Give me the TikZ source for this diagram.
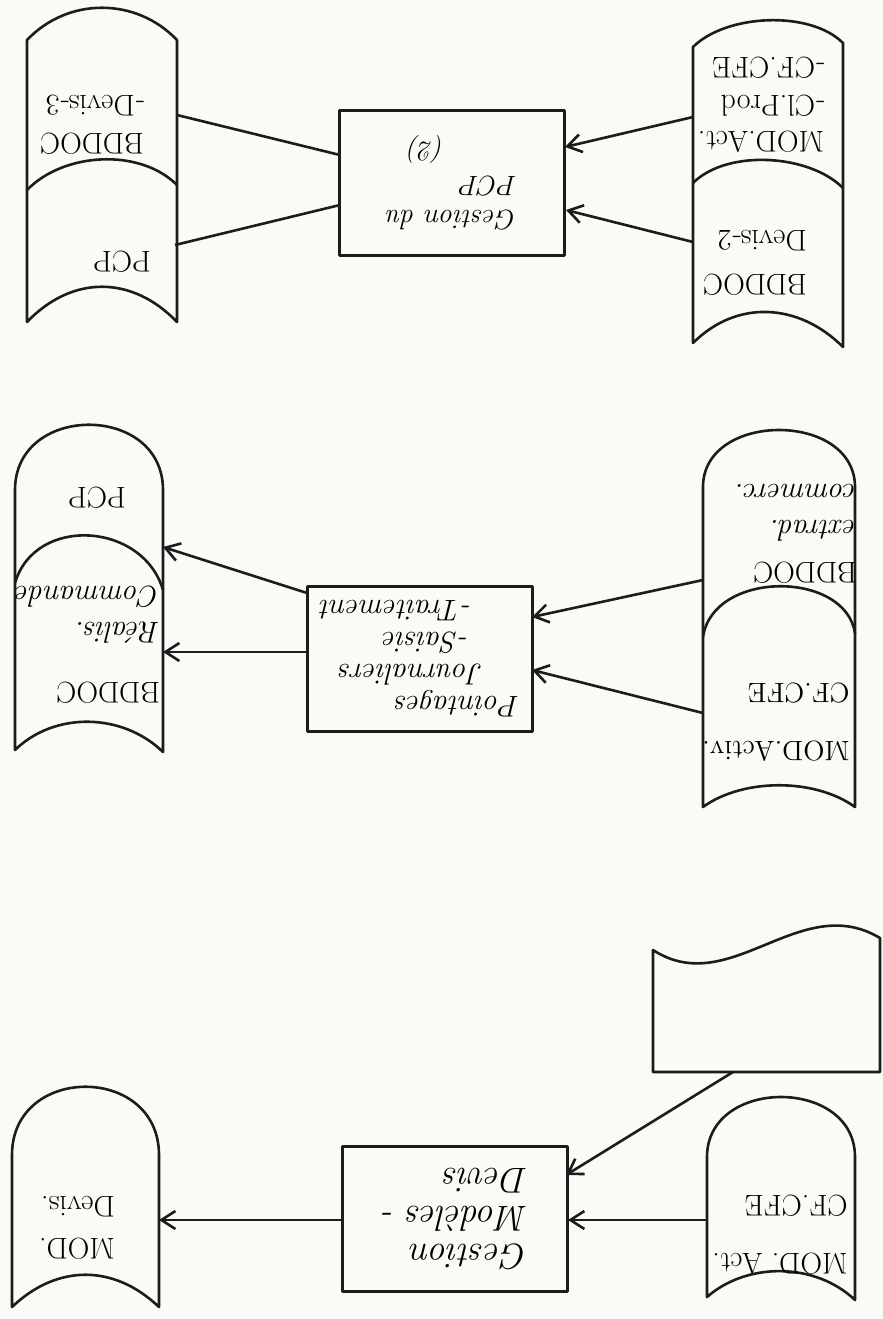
\documentclass[tikz,border=0pt]{standalone}
\usepackage{fontspec}
\usetikzlibrary{arrows.meta}
\definecolor{paper}{RGB}{250,250,246}
\definecolor{ink}{RGB}{28,28,28}
\tikzset{sheet/.style={x=0.5pt,y=-0.5pt,line width=1.3pt,line join=round}}
\tikzset{store/.style={draw=ink},
         procbox/.style={draw=ink,rotate=180,minimum width=112.5pt,minimum height=72.5pt,
                         inner sep=0pt,align=left,font=\itshape\fontsize{14}{17}\selectfont},
         dtext/.style={rotate=180,align=left,inner sep=0pt,font=\fontsize{15}{18}\selectfont},
         flow/.style={ink,-{Straight Barb[length=7pt,width=9pt]}},
         link/.style={ink}}

\begin{document}
\begin{tikzpicture}[sheet]
    \useasboundingbox[fill=paper] (0,0) rectangle (883,1319);
    % Gestion du PCP
    \draw[store] (27,322) -- (27,40) .. controls (68,-3) and (136,-3) .. (177,40) -- (177,322) .. controls (132,275) and (72,275) .. cycle;
    \draw[store] (27,190) .. controls (64,152) and (140,148) .. (177,185);
    \draw[store] (693,343) -- (693,47) .. controls (726,14) and (810,10) .. (843,43) -- (843,347) .. controls (799,303) and (737,299) .. cycle;
    \draw[store] (693,183) .. controls (727,149) and (809,154) .. (843,188);
    \node[procbox] (gpcp) at (452,183) {Gestion du\\PCP\\\hspace*{2.6em}(2)};
    \node[dtext] (devis3) at (92,125) {BDDOC\\[1pt]-Devis-3};
    \node[dtext] (pcp1) at (122,262) {PCP};
    \node[dtext] (modact1) at (761,105) {MOD.Act.\\-Cl.Prod\\[1pt]-CF.CFE};
    \node[dtext] (devis2) at (755,263) {BDDOC\\[4pt]Devis-2};
    \coordinate (tr-a) at (693,117);  \coordinate (t-a) at (565,147);
    \coordinate (tr-b) at (693,242);  \coordinate (t-b) at (566,210);
    \coordinate (t-c) at (340,155);   \coordinate (tl-a) at (177,115);
    \coordinate (t-d) at (340,205);   \coordinate (tl-b) at (175,245);
    \draw[flow] (tr-a) -- (t-a);
    \draw[flow] (tr-b) -- (t-b);
    \draw[link] (t-c) -- (tl-a);
    \draw[link] (t-d) -- (tl-b);
    % Pointages journaliers
    \draw[store] (15,583) -- (15,490) .. controls (15,403) and (163,403) .. (163,490) -- (163,590);
    \draw[store] (15,750) -- (15,583) .. controls (35,515) and (143,522) .. (163,590) -- (163,752) .. controls (123,713) and (55,711) .. cycle;
    \draw[store] (703,637) -- (703,487) .. controls (703,411) and (855,411) .. (855,487) -- (855,633);
    \draw[store] (703,807) -- (703,637) .. controls (713,570) and (845,570) .. (855,633) -- (855,807) .. controls (815,778) and (743,778) .. cycle;
    \node[procbox,font=\itshape\fontsize{15}{16}\selectfont] (pointj) at (420,659)
        {Pointages\\\hspace*{1.2em}Journaliers\\\hspace*{1.7em}-Saisie\\\hspace*{1.6em}-Traitement};
    \node[dtext] (pcp2) at (97,498) {PCP};
    \node[dtext] (realis) at (88,645) {BDDOC\\[12pt]\textit{Réalis.}\\\textit{Commande}};
    \node[dtext] (extrad) at (796,534) {BDDOC\\[3pt]\textit{extrad.}\\\textit{commerc.}};
    \node[dtext,font=\fontsize{14}{18}\selectfont] (modactiv) at (776,722) {MOD.Activ.\\[11pt]CF.CFE};
    \coordinate (mr-a) at (703,580);  \coordinate (m-a) at (532,617);
    \coordinate (mr-b) at (703,713);  \coordinate (m-b) at (532,670);
    \coordinate (m-c) at (307,593);   \coordinate (ml-a) at (163,547);
    \coordinate (m-d) at (307,652);   \coordinate (ml-b) at (163,652);
    \draw[flow] (mr-a) -- (m-a);
    \draw[flow] (mr-b) -- (m-b);
    \draw[flow] (m-c) -- (ml-a);
    \draw[flow] (m-d) -- (ml-b);
    % Gestion modeles devis
    \draw[store] (12,1307) -- (12,1155) .. controls (12,1064) and (159,1064) .. (159,1155) -- (159,1307) .. controls (114,1264) and (57,1264) .. cycle;
    \draw[store] (707,1297) -- (707,1157) .. controls (707,1077) and (855,1077) .. (855,1157) -- (855,1300) .. controls (815,1262) and (747,1262) .. cycle;
    \draw[store] (653,950) -- (653,1072) -- (880,1072) -- (880,938) .. controls (800,890) and (730,1000) .. cycle;
    \node[procbox,font=\itshape\fontsize{18}{19}\selectfont] (gmod) at (455,1219) {Gestion\\Modèles -\hspace*{12pt}\\Devis};
    \node[dtext] (moddevis) at (77,1228) {MOD.\\[3pt]Devis.};
    \node[dtext] (modact2) at (780,1235) {MOD. Act.\\[11pt]CF.CFE};
    \coordinate (br-a) at (707,1220);  \coordinate (b-a) at (568,1220);
    \coordinate (doc) at (733,1072);   \coordinate (b-b) at (566,1175);
    \coordinate (b-c) at (343,1220);   \coordinate (bl-a) at (159,1220);
    \draw[flow] (br-a) -- (b-a);
    \draw[flow] (doc) -- (b-b);
    \draw[flow] (b-c) -- (bl-a);
\end{tikzpicture}
\end{document}
